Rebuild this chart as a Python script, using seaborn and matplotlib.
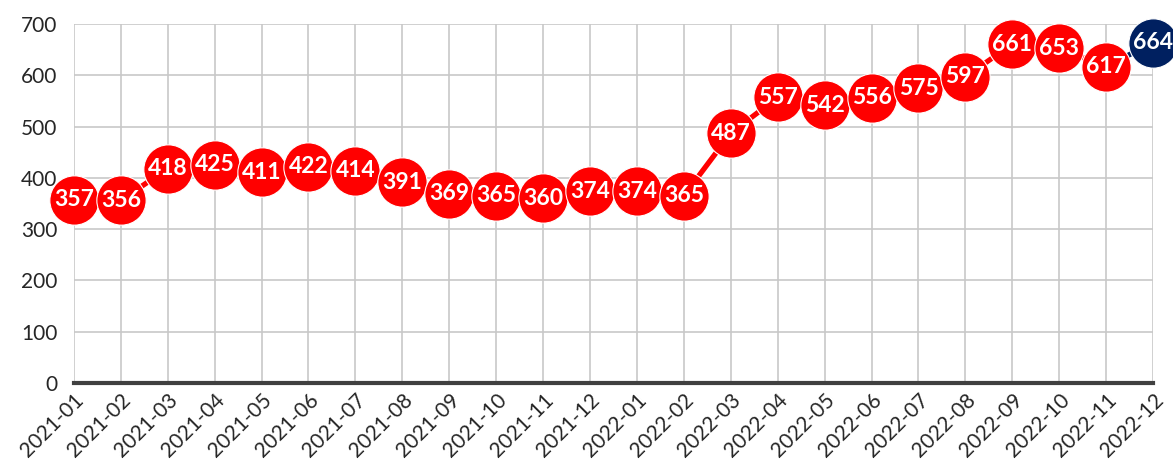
import matplotlib
import numpy as np
import pandas as pd
import seaborn as sns

matplotlib.use("Agg")
import matplotlib.pyplot as plt  # noqa: E402

sns.set_theme(style="whitegrid")
plt.rcParams["font.family"] = ["Lato", "DejaVu Sans"]

MONTHS = [
    "2021-01", "2021-02", "2021-03", "2021-04", "2021-05", "2021-06",
    "2021-07", "2021-08", "2021-09", "2021-10", "2021-11", "2021-12",
    "2022-01", "2022-02", "2022-03", "2022-04", "2022-05", "2022-06",
    "2022-07", "2022-08", "2022-09", "2022-10", "2022-11", "2022-12",
]
VALUES = [357, 356, 418, 425, 411, 422, 414, 391, 369, 365, 360, 374,
          374, 365, 487, 557, 542, 556, 575, 597, 661, 653, 617, 664]
RED, NAVY = "#ff0000", "#002060"

df = pd.DataFrame({"month": MONTHS, "value": VALUES})
df["x"] = np.arange(len(df))

fig = plt.figure(figsize=(11.73, 4.72), dpi=100)
ax = fig.add_axes([0.063, 0.189, 0.920, 0.760])

# 마지막 구간(2022-11 -> 2022-12)만 남색
sns.lineplot(data=df.iloc[:-1], x="x", y="value", color=RED, lw=3.8, ax=ax, zorder=3)
sns.lineplot(data=df.iloc[-2:], x="x", y="value", color=NAVY, lw=3.8, ax=ax, zorder=3)

colors = [RED] * (len(df) - 1) + [NAVY]
for xi, v, c in zip(df["x"], df["value"], colors):
    ax.plot(xi, v, "o", ms=35.5, color=c, mec="white", mew=0.8, zorder=4, clip_on=False)
    ax.text(xi, v, str(v), ha="center", va="center", color="white",
            fontsize=16.5, fontweight="bold", zorder=5, clip_on=False)

ax.set_xlim(0, len(df) - 1)
ax.set_ylim(0, 700)
ax.set_yticks(range(0, 701, 100))
ax.set_xticks(df["x"])
ax.set_xticklabels(MONTHS, rotation=45, ha="right", rotation_mode="anchor")
ax.tick_params(axis="x", labelsize=15, pad=5, length=0)
ax.tick_params(axis="y", labelsize=15, pad=12, length=0)
ax.set_xlabel("")
ax.set_ylabel("")
ax.grid(True, color="#c8c8c8", lw=1.2)
for s in ["top", "right", "left"]:
    ax.spines[s].set_visible(False)
ax.spines["bottom"].set_color("#404040")
ax.spines["bottom"].set_linewidth(3)

fig.savefig("out.png", dpi=100)
